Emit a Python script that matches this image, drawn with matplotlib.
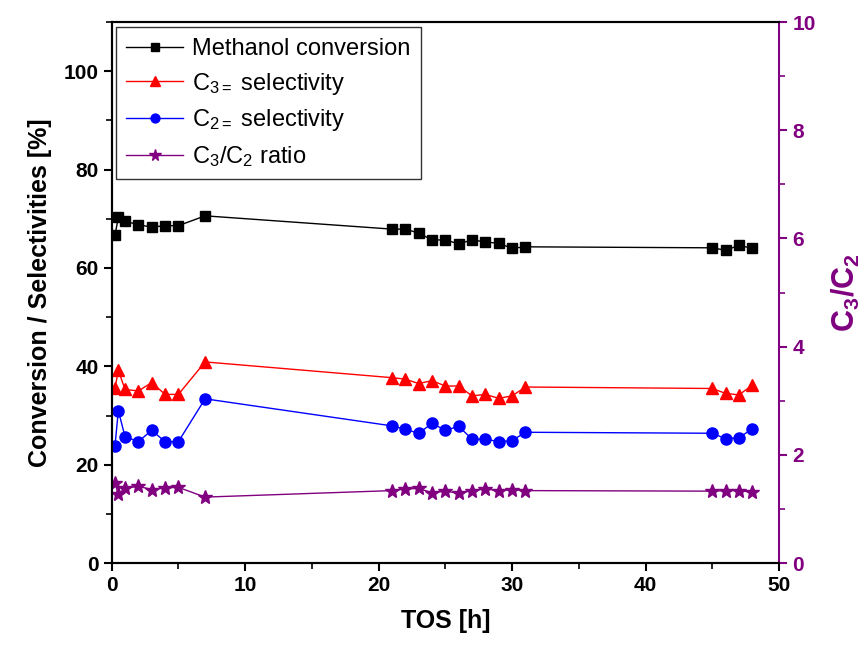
import numpy as np
import matplotlib
matplotlib.use("Agg")
import matplotlib.pyplot as plt
from matplotlib.ticker import MultipleLocator

plt.rcParams['font.family'] = ['Liberation Sans', 'DejaVu Sans']
plt.rcParams['mathtext.fontset'] = 'custom'
plt.rcParams['mathtext.rm'] = 'Liberation Sans'
plt.rcParams['mathtext.it'] = 'Liberation Sans'
plt.rcParams['mathtext.bf'] = 'Liberation Sans:bold'

# time on stream [h]
tos = [0.25, 0.5, 1, 2, 3, 4, 5, 7,
       21, 22, 23, 24, 25, 26, 27, 28, 29, 30, 31,
       45, 46, 47, 48]

conversion = [66.7, 70.3, 69.5, 68.8, 68.3, 68.6, 68.6, 70.6,
              67.9, 67.9, 67.1, 65.7, 65.7, 64.9, 65.7, 65.3, 65.0, 64.0, 64.3,
              64.1, 63.6, 64.6, 64.0]

sel_c3 = [35.6, 39.2, 35.3, 35.0, 36.7, 34.3, 34.3, 40.9,
          37.7, 37.4, 36.5, 37.1, 36.0, 36.0, 34.0, 34.3, 33.5, 34.0, 35.8,
          35.5, 34.5, 34.2, 36.2]

sel_c2 = [23.9, 31.0, 25.7, 24.7, 27.0, 24.7, 24.7, 33.4,
          27.9, 27.2, 26.4, 28.4, 27.0, 27.8, 25.2, 25.2, 24.7, 24.9, 26.6,
          26.4, 25.3, 25.5, 27.3]

ratio = [1.48, 1.27, 1.38, 1.42, 1.36, 1.39, 1.40, 1.22,
         1.34, 1.37, 1.38, 1.30, 1.33, 1.29, 1.34, 1.37, 1.34, 1.36, 1.34,
         1.33, 1.34, 1.34, 1.31]

purple = '#800080'

fig = plt.figure(figsize=(8.65, 6.48), dpi=100)
ax1 = fig.add_axes([0.1291, 0.131, 0.7715, 0.835])

l1, = ax1.plot(tos, conversion, color='black', marker='s', markersize=7, lw=1,
               label='Methanol conversion')
l2, = ax1.plot(tos, sel_c3, color='red', marker='^', markersize=8.5, lw=1,
               label='C$_{3=}$ selectivity')
l3, = ax1.plot(tos, sel_c2, color='blue', marker='o', markersize=8, lw=1,
               label='C$_{2=}$ selectivity')

ax2 = ax1.twinx()
l4, = ax2.plot(tos, ratio, color=purple, marker='*', markersize=10.5, lw=1,
               label='C$_3$/C$_2$ ratio')

ax1.set_xlim(0, 50)
ax1.set_ylim(0, 110)
ax2.set_ylim(0, 10)

ax1.xaxis.set_major_locator(MultipleLocator(10))
ax1.xaxis.set_minor_locator(MultipleLocator(5))
ax1.yaxis.set_major_locator(MultipleLocator(20))
ax1.yaxis.set_minor_locator(MultipleLocator(10))
ax2.yaxis.set_major_locator(MultipleLocator(2))
ax2.yaxis.set_minor_locator(MultipleLocator(1))

ax1.tick_params(axis='both', which='major', direction='out', length=6, width=1.5,
                labelsize=15, top=False)
ax1.tick_params(axis='both', which='minor', direction='out', length=4, width=1.2)
ax2.tick_params(axis='y', which='major', direction='out', length=6, width=1.5,
                labelsize=15, colors=purple)
ax2.tick_params(axis='y', which='minor', direction='out', length=4, width=1.2,
                colors=purple)

for lab in ax1.get_xticklabels() + ax1.get_yticklabels() + ax2.get_yticklabels():
    lab.set_fontweight('bold')

for sp in ['left', 'bottom', 'top']:
    ax1.spines[sp].set_linewidth(1.5)
    ax2.spines[sp].set_linewidth(1.5)
ax2.spines['right'].set_color(purple)
ax2.spines['right'].set_linewidth(1.5)
ax1.spines['right'].set_visible(False)

ax1.set_xlabel('TOS [h]', fontsize=18, fontweight='bold', labelpad=10)
ax1.set_ylabel('Conversion / Selectivities [%]', fontsize=18, fontweight='bold',
               labelpad=8)
ax2.set_ylabel('C$_\\mathbf{3}$/C$_\\mathbf{2}$', fontsize=22, fontweight='bold',
               color=purple, labelpad=10)

leg = ax1.legend(handles=[l1, l2, l3, l4], loc='upper left', fontsize=17,
                 markerscale=0.8, frameon=True, fancybox=False, edgecolor='black',
                 handlelength=2.4, handletextpad=0.4, labelspacing=0.45,
                 borderpad=0.45, borderaxespad=0.0,
                 bbox_to_anchor=(0.006, 0.99))
leg.get_frame().set_linewidth(1.0)

fig.savefig('out.png', dpi=100)
